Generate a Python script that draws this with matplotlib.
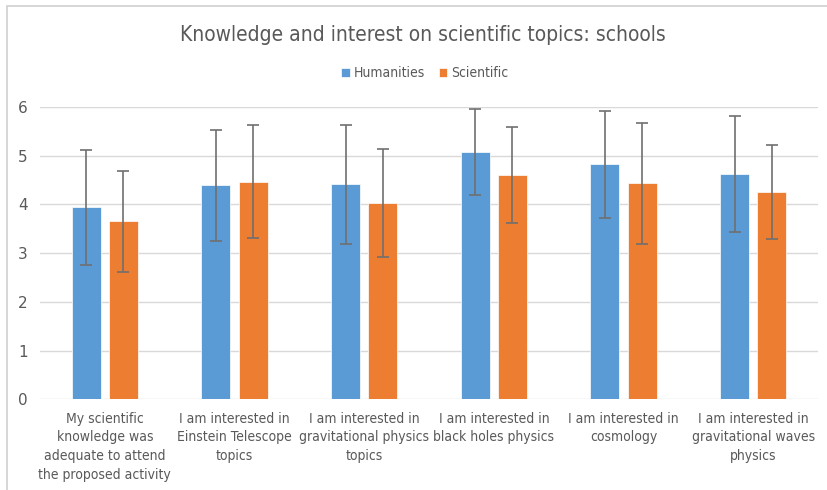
import matplotlib.pyplot as plt
from matplotlib.patches import Rectangle
import numpy as np

categories = [
    "My scientific\nknowledge was\nadequate to attend\nthe proposed activity",
    "I am interested in\nEinstein Telescope\ntopics",
    "I am interested in\ngravitational physics\ntopics",
    "I am interested in\nblack holes physics",
    "I am interested in\ncosmology",
    "I am interested in\ngravitational waves\nphysics",
]
humanities = [3.94, 4.39, 4.41, 5.07, 4.82, 4.63]
humanities_err = [1.18, 1.14, 1.22, 0.88, 1.10, 1.19]
scientific = [3.65, 4.47, 4.03, 4.60, 4.43, 4.25]
scientific_err = [1.03, 1.16, 1.10, 0.99, 1.24, 0.96]

blue = '#5B9BD5'
orange = '#ED7D31'
text_col = '#595959'

fig = plt.figure(figsize=(8.27, 4.90), dpi=100)
ax = fig.add_axes([40 / 827, 1 - 399.3 / 490, 778 / 827, (399.3 - 107) / 490])

x = np.arange(len(categories))
w = 0.224
off = 0.143
err_kw = dict(ecolor='#6f6f6f', elinewidth=1.2, capsize=4, capthick=1.2)
ax.bar(x - off, humanities, w, color=blue, edgecolor='white', linewidth=0.5,
       yerr=humanities_err, error_kw=err_kw, label='Humanities', zorder=2)
ax.bar(x + off, scientific, w, color=orange, edgecolor='white', linewidth=0.5,
       yerr=scientific_err, error_kw=err_kw, label='Scientific', zorder=2)

ax.set_xlim(-0.5, len(categories) - 0.5)
ax.set_ylim(0, 6)
ax.set_yticks(range(7))
ax.yaxis.grid(True, color='#D9D9D9', linewidth=1, zorder=0)
ax.set_axisbelow(True)
for s in ax.spines.values():
    s.set_visible(False)
ax.tick_params(axis='both', length=0, colors=text_col, labelsize=11)
ax.tick_params(axis='y', pad=9)
ax.set_xticks(x)
ax.set_xticklabels(categories, fontsize=10, fontstretch='condensed',
                   color=text_col, linespacing=1.42)
ax.tick_params(axis='x', pad=9)

fig.text(0.511, 0.929, 'Knowledge and interest on scientific topics: schools',
         ha='center', va='center', fontsize=15, fontstretch='condensed',
         color=text_col)
fig.legend(loc='center', bbox_to_anchor=(0.514, 1 - 73 / 490), ncol=2,
           frameon=False, handlelength=0.6, handleheight=0.6,
           handletextpad=0.3, columnspacing=1.0, labelcolor=text_col,
           prop={'size': 10, 'stretch': 'condensed'})

fig.patches.append(Rectangle((7 / 827, -0.1), 1.2, 1.1 - 6 / 490, fill=False,
                             edgecolor='#D0D0D0', linewidth=1.2,
                             transform=fig.transFigure, figure=fig))

fig.savefig('out.png', dpi=100)
